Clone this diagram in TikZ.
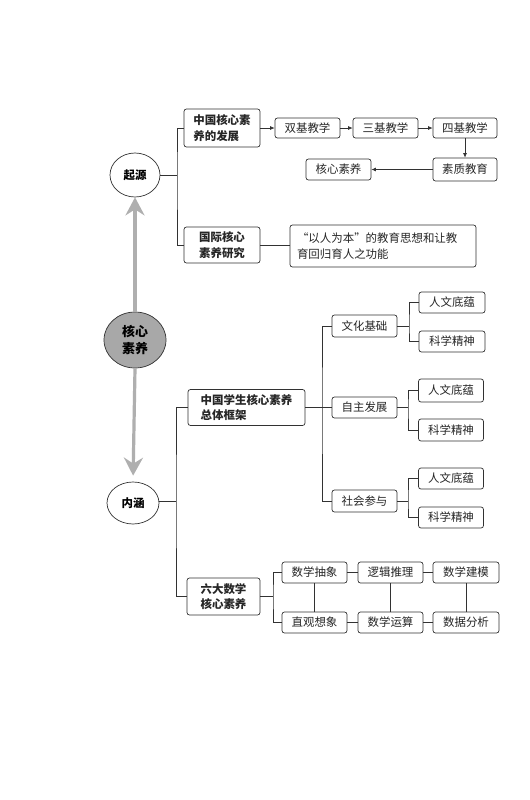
\documentclass[tikz,border=0pt]{standalone}
\usepackage{fontspec}
\newfontfamily\cjk{Noto Sans CJK SC}
\usetikzlibrary{arrows.meta,shapes.geometric}
\definecolor{lnc}{RGB}{50,50,50}
\definecolor{garr}{RGB}{175,175,175}
\definecolor{gfill}{RGB}{168,168,168}
\tikzset{
  box/.style={draw=lnc, rounded corners=2.5bp, line width=0.7bp, inner sep=0pt,
    align=center, font=\cjk\fontsize{11.5}{14.5}\selectfont, text=black!85},
  sbox/.style={box, minimum width=65bp, minimum height=21bp},
  mbox/.style={box, font=\cjk\bfseries\fontsize{11.5}{15.5}\selectfont},
  oval/.style={draw=lnc, ellipse, line width=0.7bp, inner sep=0pt,
    font=\cjk\bfseries\fontsize{11.5}{14}\selectfont},
  conn/.style={draw=lnc, line width=0.7bp},
  arr/.style={conn, -{Latex[length=4.5bp,width=4bp]}},
  garrow/.style={draw=garr, line width=3.2bp, -{Stealth[length=18bp,width=19bp,inset=6bp]}}
}
\begin{document}
\begin{tikzpicture}[x=1bp,y=-1bp]
\useasboundingbox[fill=white] (0,0) rectangle (530,800);

% left column
\node[oval, minimum width=50bp, minimum height=44bp] (qy) at (135,175) {起源};
\node[oval, fill=gfill, minimum width=62bp, minimum height=56bp, align=center,
  font=\cjk\bfseries\fontsize{13}{17}\selectfont] (core) at (135,340) {核心\\素养};
\node[oval, minimum width=52bp, minimum height=42bp] (nh) at (133,503) {内涵};

\draw[garrow] (core.north) -- (qy.south);
\draw[garrow, shorten >=6bp] (core.south) -- (nh.north);

% top section
\node[mbox, minimum width=76bp, minimum height=38bp, align=left] (n1) at (222,128) {中国核心素\\养的发展};
\node[mbox, minimum width=76bp, minimum height=36bp] (n2) at (222,245) {国际核心\\素养研究};
\node[sbox, minimum height=20bp] (s2) at (307.5,128) {双基教学};
\node[sbox, minimum height=20bp] (s3) at (385.5,128) {三基教学};
\node[sbox, minimum width=64bp, minimum height=20bp] (s4) at (465,128) {四基教学};
\node[sbox, minimum width=64bp, minimum height=23bp] (sz) at (465,169.5) {素质教育};
\node[sbox] (hx) at (338.5,169.5) {核心素养};
\node[box, minimum width=186bp, minimum height=42bp, align=left, text width=172bp,
  font=\cjk\fontsize{11.5}{16}\selectfont] (q) at (383,246) {“以人为本”的教育思想和让教\\育回归育人之功能};

\coordinate (b1) at (177,175);
\draw[conn] (qy.east) -- (b1);
\draw[conn] (n1.west) -| (b1) |- (n2.west);
\draw[conn] (n2.east) -- (n2.east -| q.west);
\draw[arr] (n1.east |- s2.west) -- (s2.west);
\draw[arr] (s2.east) -- (s3.west);
\draw[arr] (s3.east) -- (s4.west);
\draw[arr] (s4.south) -- (sz.north);
\draw[arr] (sz.west) -- (hx.east);

% middle section
\node[mbox, minimum width=117bp, minimum height=36bp, align=left] (f1) at (246.5,407.5) {中国学生核心素养\\总体框架};
\node[sbox, minimum height=22bp] (w1) at (364.5,326) {文化基础};
\node[sbox] (w2) at (364.5,407.5) {自主发展};
\node[sbox, minimum height=22bp] (w3) at (364.5,501) {社会参与};
\node[sbox, minimum width=66bp] (r1) at (452,302.5) {人文底蕴};
\node[sbox, minimum width=66bp] (k1) at (452,341.5) {科学精神};
\node[sbox, minimum height=23bp] (r2) at (451,390.5) {人文底蕴};
\node[sbox, minimum height=22bp] (k2) at (451,430) {科学精神};
\node[sbox] (r3) at (451,478.5) {人文底蕴};
\node[sbox] (k3) at (451,517.5) {科学精神};

% bottom section
\node[mbox, minimum width=73bp, minimum height=37bp] (six) at (223.5,596.5) {六大数学\\核心素养};
\node[sbox] (m1) at (314.5,572.5) {数学抽象};
\node[sbox] (m2) at (390.5,572.5) {逻辑推理};
\node[sbox, minimum width=66bp] (m3) at (466,572.5) {数学建模};
\node[sbox] (m4) at (314.5,622.5) {直观想象};
\node[sbox] (m5) at (390.5,622.5) {数学运算};
\node[sbox, minimum width=66bp] (m6) at (466,622.5) {数据分析};

\coordinate (b2) at (176,501);
\draw[conn] (nh.east |- b2) -- (b2);
\draw[conn] (f1.west) -| (b2) |- (six.west);

\coordinate (b3) at (322,407.5);
\draw[conn] (f1.east) -- (w2.west);
\draw[conn] (w1.west) -| (b3) |- (w3.west);

\coordinate (c1) at (409,326);
\draw[conn] (w1.east) -- (c1);
\draw[conn] (r1.west) -| (c1) |- (k1.west);
\coordinate (c2) at (408,407.5);
\draw[conn] (w2.east) -- (c2);
\draw[conn] (r2.west) -| (c2) |- (k2.west);
\coordinate (c3) at (408,501);
\draw[conn] (w3.east) -- (c3);
\draw[conn] (r3.west) -| (c3) |- (k3.west);

\coordinate (c4) at (273,596.5);
\draw[conn] (six.east) -- (c4);
\draw[conn] (m1.west) -| (c4) |- (m4.west);
\draw[conn] (m1.east) -- (m2.west);
\draw[conn] (m2.east) -- (m3.west);
\draw[conn] (m4.east) -- (m5.west);
\draw[conn] (m5.east) -- (m6.west);
\draw[conn] (m1.south) -- (m4.north);
\draw[conn] (m2.south) -- (m5.north);
\draw[conn] (m3.south) -- (m6.north);
\end{tikzpicture}
\end{document}
